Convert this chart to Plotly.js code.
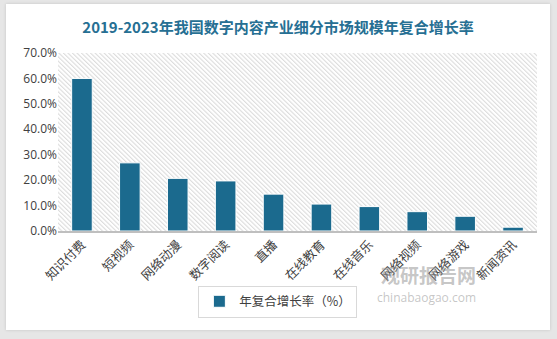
<!DOCTYPE html>
<html>
<head>
<meta charset="utf-8">
<script src="https://cdn.plot.ly/plotly-3.0.1.min.js"></script>
<style>
html,body{margin:0;padding:0;background:#e6e6e6;width:557px;height:339px;overflow:hidden;}
#chart{position:absolute;left:6px;top:4px;width:544px;height:326px;background:#fff;box-shadow:0 0 3px rgba(0,0,0,0.15);}
</style>
</head>
<body>
<div id="chart"></div>
<script>
const categories = ['知识付费','短视频','网络动漫','数字阅读','直播','在线教育','在线音乐','网络视频','网络游戏','新闻资讯'];
const growthRate = [60.0, 26.8, 20.7, 19.7, 14.5, 10.6, 9.6, 7.6, 5.8, 1.5];
const seriesName = '年复合增长率（%）';
const yTicks = [0,10,20,30,40,50,60,70];

const hatchSvg = '<svg xmlns="http://www.w3.org/2000/svg" width="479" height="184" viewBox="0 0 479 184" preserveAspectRatio="none">' +
  '<defs><pattern id="h" width="3.2" height="3.2" patternUnits="userSpaceOnUse" patternTransform="rotate(-45)">' +
  '<rect width="3.2" height="3.2" fill="#ffffff"/><rect width="1.1" height="3.2" fill="#dcdcdc"/></pattern></defs>' +
  '<rect width="479" height="184" fill="url(#h)"/></svg>';
const hatchUrl = 'data:image/svg+xml;charset=utf-8,' + encodeURIComponent(hatchSvg);

const trace = {
  type: 'bar',
  x: categories,
  y: growthRate,
  name: seriesName,
  showlegend: true,
  marker: {color: '#1b6a8e', line: {color: '#ffffff', width: 1}},
  width: 0.43
};

const layout = {
  width: 544, height: 326,
  margin: {l: 52, r: 13, t: 49, b: 93},
  paper_bgcolor: '#ffffff',
  plot_bgcolor: 'rgba(0,0,0,0)',
  font: {family: '"Noto Sans CJK SC", "Noto Sans", sans-serif', color: '#404040', size: 11},
  title: {
    text: '2019-2023年我国数字内容产业细分市场规模年复合增长率',
    font: {family: '"Noto Sans CJK SC", sans-serif', size: 15, color: '#266f93', weight: 'bold'},
    x: 0.5, xref: 'container', xanchor: 'center',
    y: 0.926, yref: 'container', yanchor: 'middle'
  },
  xaxis: {
    type: 'category',
    tickangle: -45,
    showline: true, linecolor: '#bfbfbf', linewidth: 1.5,
    ticks: '',
    tickfont: {family: '"Noto Sans CJK SC", serif', size: 12.5, color: '#404040'},
    showgrid: false
  },
  yaxis: {
    range: [0, 70],
    tickvals: yTicks,
    ticktext: yTicks.map(v => v.toFixed(1) + '%'),
    showgrid: false,
    zeroline: false,
    showline: false,
    tickfont: {family: '"Open Sans", "Noto Sans", sans-serif', size: 12, color: '#404040'}
  },
  images: [{
    source: hatchUrl, xref: 'paper', yref: 'paper', x: 0, y: 1, sizex: 1, sizey: 1,
    sizing: 'stretch', xanchor: 'left', yanchor: 'top', layer: 'below'
  }],
  legend: {
    orientation: 'h',
    x: 0.459, xanchor: 'center',
    y: -0.397, yanchor: 'middle',
    bordercolor: '#d9d9d9', borderwidth: 1,
    itemwidth: 30,
    font: {family: '"Noto Sans CJK SC", sans-serif', size: 12.5, color: '#404040'}
  },
  annotations: [
    {text: '<b>观研报告网</b>', xref: 'paper', yref: 'paper', x: 0.877, y: -0.33, showarrow: false,
     font: {family: '"Noto Sans CJK SC", sans-serif', size: 19, color: 'rgba(150,150,150,0.55)'}},
    {text: 'chinabaogao.com', xref: 'paper', yref: 'paper', x: 0.877, y: -0.43, showarrow: false,
     font: {family: '"Open Sans", sans-serif', size: 12, color: 'rgba(150,150,150,0.55)'}}
  ]
};

Plotly.newPlot('chart', [trace], layout, {displayModeBar: false, staticPlot: true});
</script>
</body>
</html>
